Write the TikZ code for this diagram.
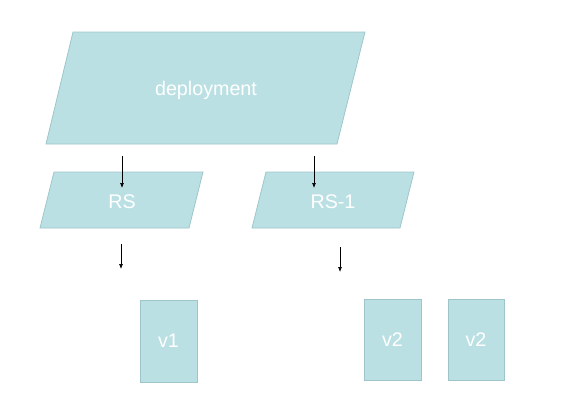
\documentclass[tikz,border=0pt]{standalone}
\usepackage{fontspec}
\setmainfont{Liberation Sans}
\usetikzlibrary{arrows.meta}
\definecolor{boxfill}{RGB}{187,224,227}
\definecolor{boxline}{RGB}{158,198,202}
\tikzset{
  shapebox/.style={fill=boxfill,draw=boxline,line width=0.8pt},
  lbl/.style={text=white,font=\fontsize{19.7}{22}\selectfont,inner sep=0pt},
  arr/.style={-{Latex[length=5pt,width=4pt]},line width=0.7pt,black}
}
\begin{document}
\begin{tikzpicture}[x=1pt,y=-1pt]
\useasboundingbox (0,0) rectangle (562,405);
% deployment
\path[shapebox] (73,32) -- (365,32) -- (337,144) -- (46,144) -- cycle;
\node[lbl] (dep) at (206,90) {deployment};
% RS
\path[shapebox] (54,172) -- (203,172) -- (189,228) -- (40,228) -- cycle;
\node[lbl] (rs) at (122,202) {RS};
% RS-1
\path[shapebox] (266,172) -- (414,172) -- (400,228) -- (252,228) -- cycle;
\node[lbl] (rs1) at (333,202) {RS-1};
% pods
\node[shapebox,minimum width=57pt,minimum height=82pt,inner sep=0pt] (v1) at (168.5,341) {};
\node[lbl] (v1t) at (v1) {v1};
\node[shapebox,minimum width=57pt,minimum height=81pt,inner sep=0pt] (v2a) at (392.5,339.5) {};
\node[lbl] (v2at) at (v2a) {v2};
\node[shapebox,minimum width=56pt,minimum height=81pt,inner sep=0pt] (v2b) at (476,339.5) {};
\node[lbl] (v2bt) at (v2b) {v2};
% arrow endpoints
\coordinate (a1s) at (122,156); \coordinate (a1e) at (122,188);
\coordinate (a2s) at (314,156); \coordinate (a2e) at (314,188);
\coordinate (a3s) at (121,244); \coordinate (a3e) at (121,269);
\coordinate (a4s) at (340,247); \coordinate (a4e) at (340,272);
\draw[arr] (a1s) -- (a1e);
\draw[arr] (a2s) -- (a2e);
\draw[arr] (a3s) -- (a3e);
\draw[arr] (a4s) -- (a4e);
\end{tikzpicture}
\end{document}
